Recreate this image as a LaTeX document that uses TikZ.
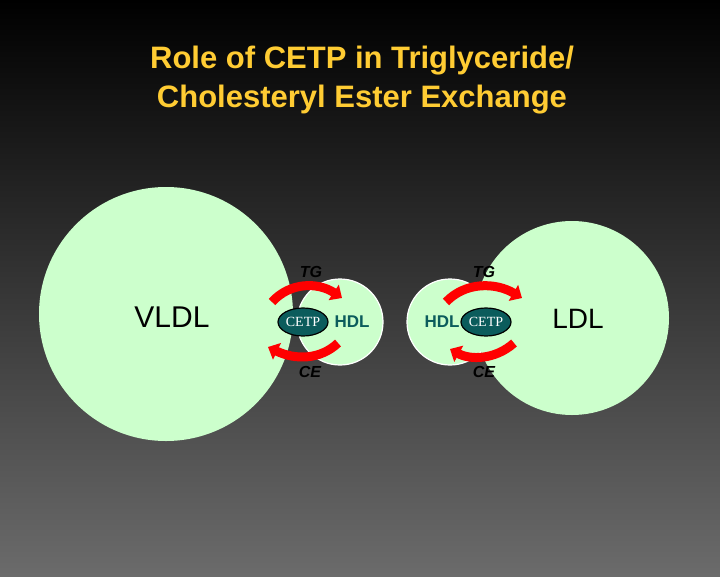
\documentclass[tikz,border=0pt]{standalone}
\usepackage{fontspec}
\setmainfont{Liberation Sans}
\usetikzlibrary{arrows.meta,shapes.geometric}
\definecolor{ttl}{HTML}{FFCC33}
\definecolor{lgreen}{HTML}{CCFFCC}
\definecolor{teal}{HTML}{0B5C5C}
\tikzset{
  blob/.style={circle,fill=lgreen,inner sep=0pt},
  hdl/.style={circle,fill=lgreen,draw=white,line width=1.2pt,inner sep=0pt,minimum size=86pt},
  cetp/.style={ellipse,fill=teal,draw=black,line width=1.2pt,minimum width=50pt,minimum height=28pt,inner sep=0pt,text=white,font=\fontspec{Liberation Serif}\fontsize{14}{14}\selectfont},
  lbl/.style={font=\bfseries\itshape\fontsize{16}{16}\selectfont},
  redarr/.style={line width=9pt,-{Triangle[length=10pt,width=18pt]},red}
}
\begin{document}
\begin{tikzpicture}[x=1pt,y=-1pt]
\shade[top color=black,bottom color=black!58] (0,0) rectangle (720,576);
\useasboundingbox (0,0) rectangle (720,576);
\node[text=ttl,font=\bfseries\fontsize{31}{39}\selectfont,align=center] (title) at (362,80) {Role of CETP in Triglyceride/\\Cholesteryl Ester Exchange};
\node[blob,minimum size=254pt] (vldl) at (166,314) {};
\node[font=\fontsize{30}{30}\selectfont] at (172,317) {VLDL};
\node[hdl] (hdl1) at (340,322) {};
\node[hdl] (hdl2) at (450,322) {};
\node[blob,minimum size=194pt] (ldl) at (572,318) {};
\node[font=\fontsize{28}{28}\selectfont] at (578,319) {LDL};
\node[text=teal,font=\bfseries\fontsize{17}{17}\selectfont] at (352,322) {HDL};
\node[text=teal,font=\bfseries\fontsize{17}{17}\selectfont] at (442,322) {HDL};
\node[cetp] (c1) at (303,322) {CETP};
\node[cetp] (c2) at (486,322) {CETP};
\node[lbl] (tg1) at (311,272) {TG};
\node[lbl] (ce1) at (310,372) {CE};
\node[lbl] (tg2) at (484,272) {TG};
\node[lbl] (ce2) at (484,372) {CE};
\draw[redarr] (272,302) .. controls (290,282) and (318,282) .. (342,298);
\draw[redarr] (338,343) .. controls (320,360) and (295,360) .. (268,347);
\draw[redarr] (446,302) .. controls (465,282) and (495,282) .. (522,298);
\draw[redarr] (514,343) .. controls (495,360) and (470,360) .. (450,349);
\end{tikzpicture}
\end{document}
